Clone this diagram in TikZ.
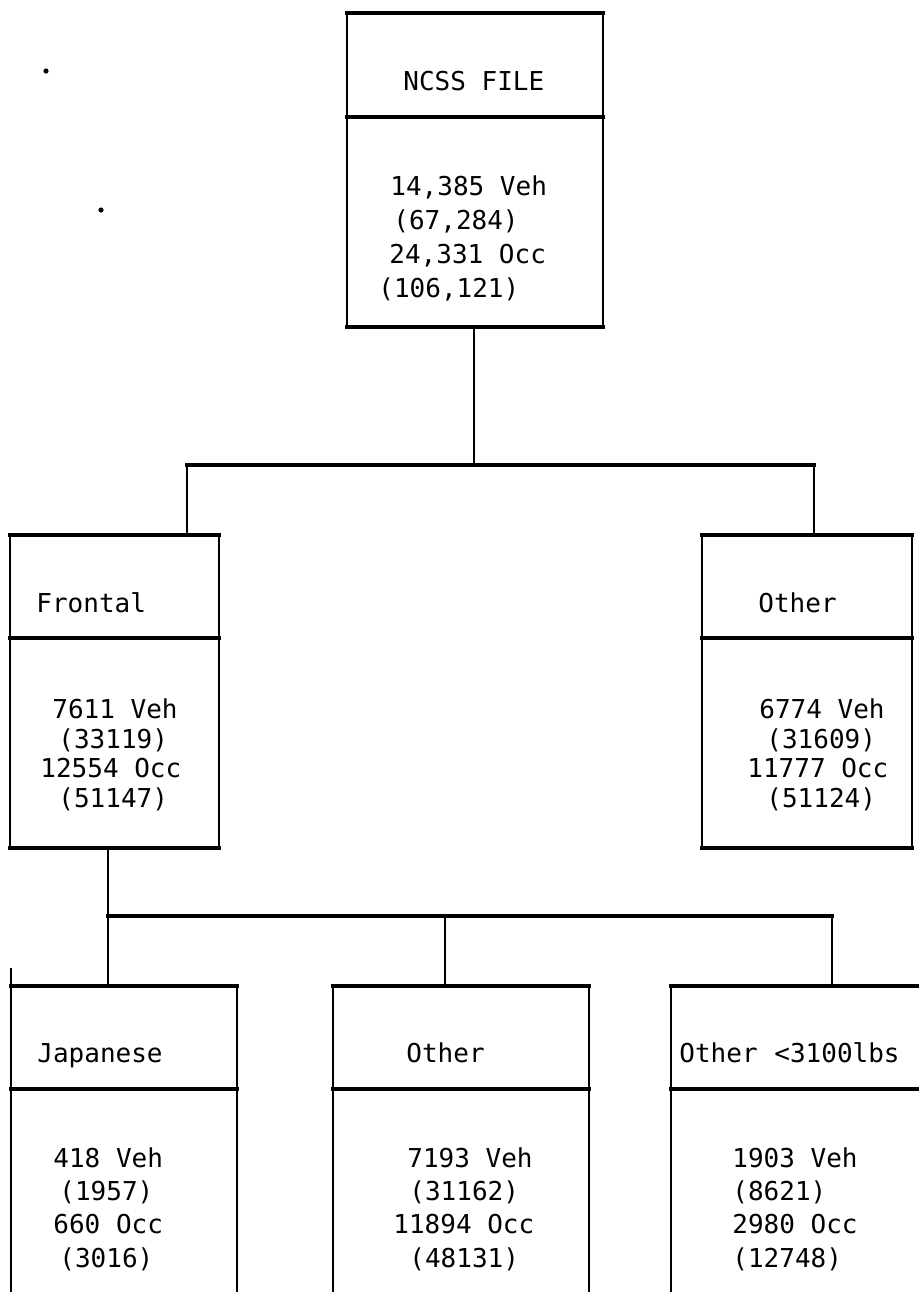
\documentclass[tikz,border=0pt]{standalone}
\usepackage{fontspec}
\setmonofont{DejaVu Sans Mono}
\begin{document}
\begin{tikzpicture}[x=0.5pt,y=-0.5pt,
  hline/.style={line width=1.7pt,line cap=rect},
  vline/.style={line width=1.1pt},
  conn/.style={line width=1.1pt},
  txt/.style={anchor=base west,inner sep=0pt,font=\ttfamily\fontsize{13}{15}\selectfont},
  dotmark/.style={fill=black}]
\useasboundingbox[fill=white] (0,0) rectangle (919,1292);
% ---- box corner coordinates
% top box
\coordinate (ncssTL) at (347,13);  \coordinate (ncssTR) at (603,13);
\coordinate (ncssDL) at (347,117); \coordinate (ncssDR) at (603,117);
\coordinate (ncssBL) at (347,327); \coordinate (ncssBR) at (603,327);
\coordinate (ncssB) at (474,327);
% frontal box
\coordinate (frTL) at (10,535);  \coordinate (frTR) at (219,535);
\coordinate (frDL) at (10,638);  \coordinate (frDR) at (219,638);
\coordinate (frBL) at (10,848);  \coordinate (frBR) at (219,848);
\coordinate (frT) at (187,535);  \coordinate (frB) at (108,848);
% other box (middle row)
\coordinate (otTL) at (702,535); \coordinate (otTR) at (912,535);
\coordinate (otDL) at (702,638); \coordinate (otDR) at (912,638);
\coordinate (otBL) at (702,848); \coordinate (otBR) at (912,848);
\coordinate (otT) at (814,535);
% bottom row
\coordinate (jaTL) at (11,986);  \coordinate (jaTR) at (237,986);
\coordinate (jaDL) at (11,1089); \coordinate (jaDR) at (237,1089);
\coordinate (jaBL) at (11,1292); \coordinate (jaBR) at (237,1292);
\coordinate (jaS) at (11,968);   \coordinate (jaT) at (108,986);
\coordinate (o2TL) at (333,986); \coordinate (o2TR) at (589,986);
\coordinate (o2DL) at (333,1089);\coordinate (o2DR) at (589,1089);
\coordinate (o2BL) at (333,1292);\coordinate (o2BR) at (589,1292);
\coordinate (o2T) at (445,986);
\coordinate (o3TL) at (671,986); \coordinate (o3TR) at (919,986);
\coordinate (o3DL) at (671,1089);\coordinate (o3DR) at (919,1089);
\coordinate (o3BL) at (671,1292);
\coordinate (o3T) at (832,986);
% bus coordinates
\coordinate (bus1) at (474,465);
\coordinate (bus2) at (108,916);
% ---- boxes
\draw[hline] (ncssTL) -- (ncssTR) (ncssDL) -- (ncssDR) (ncssBL) -- (ncssBR);
\draw[vline] (ncssTL) -- (ncssBL) (ncssTR) -- (ncssBR);
\draw[hline] (frTL) -- (frTR) (frDL) -- (frDR) (frBL) -- (frBR);
\draw[vline] (frTL) -- (frBL) (frTR) -- (frBR);
\draw[hline] (otTL) -- (otTR) (otDL) -- (otDR) (otBL) -- (otBR);
\draw[vline] (otTL) -- (otBL) (otTR) -- (otBR);
\draw[hline] (jaTL) -- (jaTR) (jaDL) -- (jaDR);
\draw[vline] (jaS) -- (jaBL) (jaTR) -- (jaBR);
\draw[hline] (o2TL) -- (o2TR) (o2DL) -- (o2DR);
\draw[vline] (o2TL) -- (o2BL) (o2TR) -- (o2BR);
\draw[hline] (o3TL) -- (o3TR) (o3DL) -- (o3DR);
\draw[vline] (o3TL) -- (o3BL);
% ---- connectors
\draw[conn] (ncssB) -- (bus1);
\draw[hline] (bus1 -| frT) -- (bus1 -| otT);
\draw[conn] (bus1 -| frT) -- (frT);
\draw[conn] (bus1 -| otT) -- (otT);
\draw[conn] (frB) -- (bus2);
\draw[hline] (bus2) -- (bus2 -| o3T);
\draw[conn] (bus2) -- (jaT);
\draw[conn] (bus2 -| o2T) -- (o2T);
\draw[conn] (bus2 -| o3T) -- (o3T);
% ---- stray dots
\fill[dotmark] (46,71) circle (2.6);
\fill[dotmark] (101,210) circle (2.6);
% ---- texts
\node[txt] (ncssH) at (403,90) {NCSS FILE};
\node[txt] (ncss1) at (390,195) {14,385 Veh};
\node[txt] (ncss2) at (393,229) {(67,284)};
\node[txt] (ncss3) at (389,263) {24,331 Occ};
\node[txt] (ncss4) at (378,297) {(106,121)};
\node[txt] (frH) at (36,612) {Frontal};
\node[txt] (fr1) at (52,718) {7611 Veh};
\node[txt] (fr2) at (58,748) {(33119)};
\node[txt] (fr3) at (40,777) {12554 Occ};
\node[txt] (fr4) at (58,807) {(51147)};
\node[txt] (otH) at (758,612) {Other};
\node[txt] (ot1) at (759,718) {6774 Veh};
\node[txt] (ot2) at (766,748) {(31609)};
\node[txt] (ot3) at (747,777) {11777 Occ};
\node[txt] (ot4) at (766,807) {(51124)};
\node[txt] (jaH) at (37,1062) {Japanese};
\node[txt] (ja1) at (53,1167) {418 Veh};
\node[txt] (ja2) at (59,1200) {(1957)};
\node[txt] (ja3) at (53,1233) {660 Occ};
\node[txt] (ja4) at (59,1267) {(3016)};
\node[txt] (o2H) at (406,1062) {Other};
\node[txt] (o21) at (407,1167) {7193 Veh};
\node[txt] (o22) at (409,1200) {(31162)};
\node[txt] (o23) at (393,1233) {11894 Occ};
\node[txt] (o24) at (409,1267) {(48131)};
\node[txt] (o3H) at (679,1062) {Other};
\node[txt] (o3Hb) at (774,1062) {<3100lbs};
\node[txt] (o31) at (732,1167) {1903 Veh};
\node[txt] (o32) at (732,1200) {(8621)};
\node[txt] (o33) at (732,1233) {2980 Occ};
\node[txt] (o34) at (732,1267) {(12748)};
\end{tikzpicture}
\end{document}
